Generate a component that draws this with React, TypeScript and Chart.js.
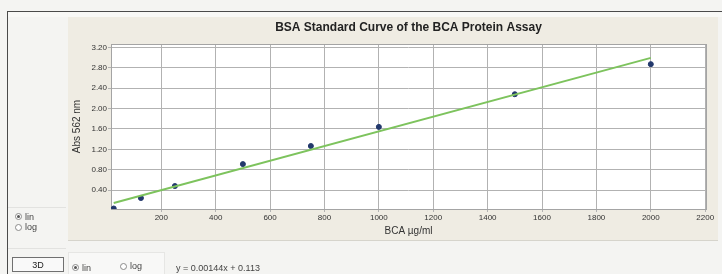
import React, { useEffect, useRef } from "react";
import { Chart, registerables } from "chart.js";

Chart.register(...registerables);

// BSA standard concentrations (µg/ml) and absorbances at 562 nm
const concentrations = [25, 125, 250, 500, 750, 1000, 1500, 2000];
const absorbances = [0.04, 0.245, 0.48, 0.91, 1.265, 1.64, 2.28, 2.87];

// Linear fit line end points (y = 0.00144x + 0.113)
const fitX = [25, 2000];
const fitY = [0.149, 2.993];

const xTicks = [200, 400, 600, 800, 1000, 1200, 1400, 1600, 1800, 2000, 2200];
const xTickLabels = ["200", "400", "600", "800", "1000", "1200", "1400", "1600", "1800", "2000", "2200"];
const yTicks = [0.4, 0.8, 1.2, 1.6, 2.0, 2.4, 2.8, 3.2];
const yTickLabels = ["0.40", "0.80", "1.20", "1.60", "2.00", "2.40", "2.80", "3.20"];

const chartTitle = "BSA Standard Curve of the BCA Protein Assay";
const xTitle = "BCA µg/ml";
const yTitle = "Abs 562 nm";
const equation = "y = 0.00144x + 0.113";

const FONT = "'Liberation Sans', Arial, sans-serif";

const bgPlugin = {
  id: "bgPlugin",
  beforeDraw(chart: any) {
    const { ctx, chartArea, width, height } = chart;
    ctx.save();
    ctx.fillStyle = "#efece3";
    ctx.fillRect(0, 0, width, height);
    ctx.fillStyle = "#ffffff";
    ctx.fillRect(chartArea.left, chartArea.top, chartArea.right - chartArea.left, chartArea.bottom - chartArea.top);
    ctx.restore();
  },
  beforeDatasetsDraw(chart: any) {
    const { ctx, chartArea } = chart;
    ctx.save();
    ctx.strokeStyle = "#a4a4a4";
    ctx.lineWidth = 1;
    ctx.strokeRect(Math.round(chartArea.left) + 0.5, Math.round(chartArea.top) + 0.5, Math.round(chartArea.right - chartArea.left), Math.round(chartArea.bottom - chartArea.top));
    ctx.restore();
  },
};

function Radio({ checked, label }: { checked: boolean; label: string }) {
  return (
    <span style={{ display: "inline-flex", alignItems: "center", gap: 3 }}>
      <span
        style={{
          width: 7,
          height: 7,
          borderRadius: "50%",
          border: "1px solid #8a8a8a",
          background: "#fff",
          display: "inline-flex",
          alignItems: "center",
          justifyContent: "center",
          boxSizing: "border-box",
        }}
      >
        {checked && <span style={{ width: 3, height: 3, borderRadius: "50%", background: "#555" }} />}
      </span>
      <span>{label}</span>
    </span>
  );
}

export default function App() {
  const canvasRef = useRef<HTMLCanvasElement | null>(null);

  useEffect(() => {
    const canvas = canvasRef.current;
    if (!canvas) return;
    const chart = new Chart(canvas, {
      type: "scatter",
      data: {
        datasets: [
          {
            label: "Standards",
            data: concentrations.map((x, i) => ({ x, y: absorbances[i] })),
            backgroundColor: "#22386c",
            borderColor: "#22386c",
            pointRadius: 2.5,
            pointHoverRadius: 2.5,
            showLine: false,
            order: 1,
          },
          {
            label: "Fit",
            data: fitX.map((x, i) => ({ x, y: fitY[i] })),
            borderColor: "#7dc35d",
            backgroundColor: "#7dc35d",
            borderWidth: 2,
            pointRadius: 0,
            showLine: true,
            order: 0,
          },
        ],
      },
      options: {
        responsive: false,
        animation: false,
        devicePixelRatio: 1,
        layout: { padding: { left: 0, right: 12, top: 0, bottom: 0 } },
        plugins: {
          legend: { display: false },
          tooltip: { enabled: false },
          title: {
            display: true,
            text: chartTitle,
            fullSize: false,
            color: "#222",
            font: { family: FONT, size: 12, weight: "bold" },
            padding: { top: 3.4, bottom: 9.2 },
          },
        },
        scales: {
          x: {
            type: "linear",
            min: 15,
            max: 2203,
            afterBuildTicks: (s: any) => {
              s.ticks = xTicks.map((v) => ({ value: v }));
            },
            afterFit: (s: any) => {
              s.height = 31;
            },
            grid: { color: "#b2b2b2", lineWidth: 1, tickLength: 3, drawTicks: true },
            border: { display: false },
            ticks: {
              autoSkip: false,
              maxRotation: 0,
              padding: 1,
              color: "#333",
              font: { family: FONT, size: 8 },
              callback: (v: any) => {
                const i = xTicks.indexOf(Number(v));
                return i >= 0 ? xTickLabels[i] : "";
              },
            },
            title: {
              display: true,
              text: xTitle,
              color: "#333",
              font: { family: FONT, size: 10 },
              padding: { top: 0, bottom: 3 },
            },
          },
          y: {
            type: "linear",
            min: 0.03,
            max: 3.265,
            afterBuildTicks: (s: any) => {
              s.ticks = yTicks.map((v) => ({ value: v }));
            },
            afterFit: (s: any) => {
              s.width = 43;
            },
            grid: { color: "#b2b2b2", lineWidth: 1, tickLength: 3, drawTicks: true },
            border: { display: false },
            ticks: {
              autoSkip: false,
              padding: 1,
              color: "#333",
              font: { family: FONT, size: 8 },
              callback: (v: any) => {
                const i = yTicks.findIndex((t) => Math.abs(t - Number(v)) < 1e-6);
                return i >= 0 ? yTickLabels[i] : "";
              },
            },
            title: {
              display: true,
              text: yTitle,
              color: "#333",
              font: { family: FONT, size: 10 },
              padding: { top: 3, bottom: 0 },
            },
          },
        },
      },
      plugins: [bgPlugin],
    } as any);
    return () => chart.destroy();
  }, []);

  const small: React.CSSProperties = { fontFamily: FONT, fontSize: 9, color: "#444" };

  return (
    <div
      style={{
        position: "fixed",
        left: 0,
        top: 0,
        width: 722,
        height: 274,
        background: "#f4f4f2",
        overflow: "hidden",
      }}
    >
      {/* window frame lines */}
      <div style={{ position: "absolute", left: 7, top: 11, width: 715, height: 1, background: "#4a4a4a" }} />
      <div style={{ position: "absolute", left: 7, top: 11, width: 1, height: 263, background: "#4a4a4a" }} />
      {/* light strip above panel */}
      <div style={{ position: "absolute", left: 8, top: 12, width: 714, height: 5, background: "#f8f8f6" }} />
      {/* chart panel */}
      <div style={{ position: "absolute", left: 68, top: 17, width: 650, height: 223 }}>
        <canvas ref={canvasRef} width={650} height={223} style={{ display: "block" }} />
      </div>
      <div style={{ position: "absolute", left: 68, top: 240, width: 650, height: 1, background: "#d6d4cc" }} />
      {/* left scale radio group */}
      <div
        style={{
          position: "absolute",
          left: 8,
          top: 207,
          width: 58,
          height: 40,
          borderTop: "1px solid #e2e2e0",
          borderBottom: "1px solid #e2e2e0",
        }}
      />
      <div style={{ ...small, position: "absolute", left: 15, top: 210 }}>
        <Radio checked label="lin" />
      </div>
      <div style={{ ...small, position: "absolute", left: 15, top: 222 }}>
        <Radio checked={false} label="log" />
      </div>
      {/* bottom controls */}
      <div
        style={{
          ...small,
          position: "absolute",
          left: 12,
          top: 257,
          width: 50,
          height: 13,
          border: "1px solid #707070",
          background: "#f9f9f9",
          display: "flex",
          alignItems: "center",
          justifyContent: "center",
          color: "#222",
        }}
      >
        3D
      </div>
      <div
        style={{
          position: "absolute",
          left: 68,
          top: 252,
          width: 97,
          height: 24,
          background: "#f8f8f7",
          border: "1px solid #e6e6e4",
          boxSizing: "border-box",
        }}
      />
      <div style={{ ...small, position: "absolute", left: 72, top: 261 }}>
        <Radio checked label="lin" />
      </div>
      <div style={{ ...small, position: "absolute", left: 120, top: 261 }}>
        <Radio checked={false} label="log" />
      </div>
      <div style={{ ...small, position: "absolute", left: 176, top: 263 }}>{equation}</div>
    </div>
  );
}
